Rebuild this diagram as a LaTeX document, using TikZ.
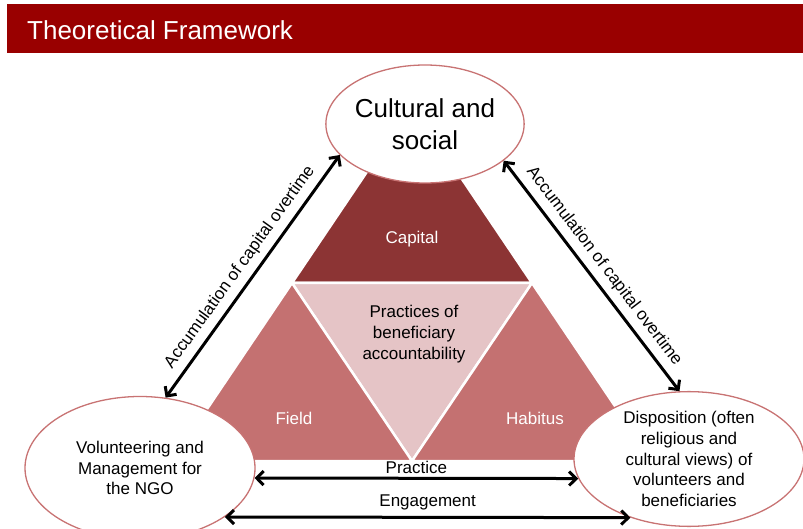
\documentclass[tikz,border=0pt]{standalone}
\usepackage{fontspec}
\setmainfont{Liberation Sans}
\usetikzlibrary{arrows.meta,shapes.geometric}

\definecolor{capitalred}{RGB}{140,52,52}
\definecolor{sidered}{RGB}{196,113,113}
\definecolor{midpink}{RGB}{229,196,198}
\definecolor{ovalred}{RGB}{200,115,115}

\begin{document}
\begin{tikzpicture}[
    x=1pt, y=-1pt,
    piece/.style={draw=white, line width=2.5pt, line join=round},
    oval/.style={ellipse, draw=ovalred, line width=1.3pt, fill=white, inner sep=0pt, align=center, font=\fontsize{17}{20.7}\selectfont},
    txt/.style={font=\fontsize{17}{21}\selectfont, align=center},
    link/.style={{Straight Barb[length=7pt,width=14pt]}-{Straight Barb[length=7pt,width=14pt]}, line width=3pt}
]

\useasboundingbox (0,0) rectangle (803,529);

% Header
\fill[red!60!black] (7,4) rectangle (803,53);
\node[anchor=base west, white, inner sep=0pt, font=\fontsize{26}{30}\selectfont] (title) at (27,40) {Theoretical Framework};

% Capital
\filldraw[fill=capitalred, piece] (412,105) -- (292,283) -- (532,283) -- cycle;
\node[txt, white] (capital) at (412,239) {Capital};

% Practices
\filldraw[fill=midpink, piece] (292,283) -- (532,283) -- (412,461) -- cycle;
\node[txt] (practices) at (414,334) {Practices of\\beneficiary\\accountability};

% Field
\filldraw[fill=sidered, piece] (172,461) -- (292,283) -- (412,461) -- cycle;
\node[txt, white] (field) at (294,418) {Field};

% Habitus
\filldraw[fill=sidered, piece] (412,461) -- (532,283) -- (652,461) -- cycle;
\node[txt, white] (habitus) at (535,418) {Habitus};

% Ovals
\node[oval, minimum width=193pt, minimum height=118pt, font=\fontsize{26}{32}\selectfont] (cult) at (425,124) {Cultural and\\social};
\node[oval, minimum width=230pt, minimum height=143pt] (vol) at (140,468) {Volunteering and\\Management for\\the NGO};
\node[oval, minimum width=230pt, minimum height=132pt] (disp) at (689,459) {Disposition (often\\religious and\\cultural views) of\\volunteers and\\beneficiaries};

% Accumulation
\draw[link] (vol.70) -- node[sloped, above=3pt, txt] (accleft) {Accumulation of capital overtime} (cult.200);
\draw[link] (cult.335) -- node[sloped, above=3pt, txt] (accright) {Accumulation of capital overtime} (disp.98);

% Practice and engagement
\draw[link] (vol.-5) -- node[above, txt] (practice) {Practice} (disp.190);
\draw[link] (vol.-30) -- node[above=2pt, txt] (engage) {Engagement} (disp.225);

\end{tikzpicture}
\end{document}
